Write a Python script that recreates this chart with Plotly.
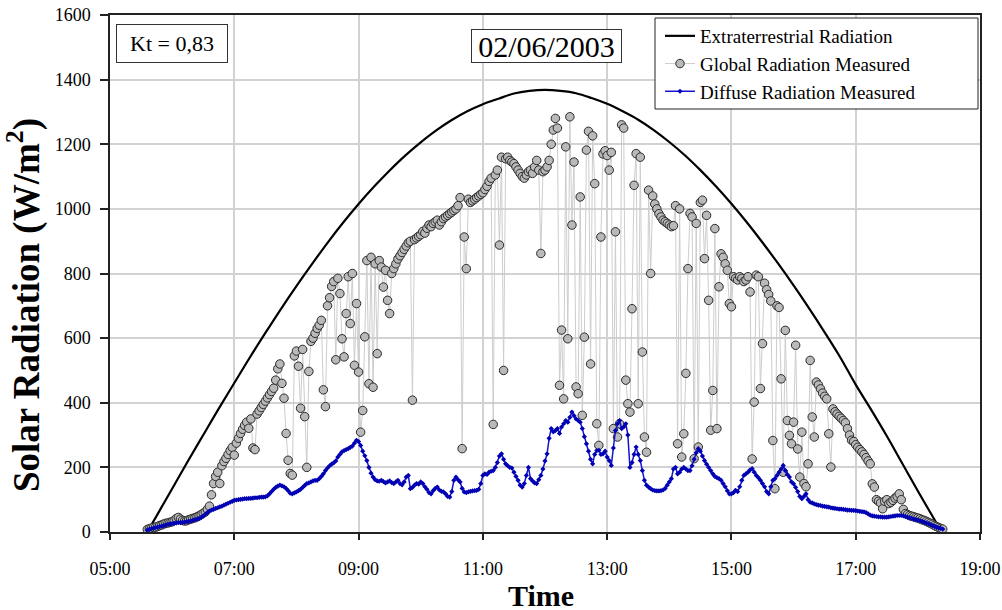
import plotly.graph_objects as go
import pandas as pd

DAY = "2003-06-02"
FONT = "Liberation Serif"

# ---------------- Extraterrestrial radiation ----------------
et_times = ["05:36", "05:45", "06:00", "06:15", "06:30", "06:45", "07:00", "07:15", "07:30", "07:45",
            "08:00", "08:15", "08:30", "08:45", "09:00", "09:15", "09:30", "09:45", "10:00", "10:15",
            "10:30", "10:45", "11:00", "11:15", "11:30", "11:45", "12:00", "12:15", "12:30", "12:45",
            "13:00", "13:15", "13:30", "13:45", "14:00", "14:15", "14:30", "14:45", "15:00", "15:15",
            "15:30", "15:45", "16:00", "16:15", "16:30", "16:45", "17:00", "17:15", "17:30", "17:45",
            "18:00", "18:15", "18:23"]
et_values = [0, 50, 134, 218, 300, 382, 461, 540, 616, 690,
             761, 829, 895, 957, 1015, 1069, 1119, 1165, 1206, 1243,
             1275, 1302, 1324, 1341, 1357, 1365, 1368, 1365, 1358, 1343,
             1325, 1302, 1276, 1244, 1207, 1166, 1120, 1070, 1016, 958,
             896, 831, 763, 692, 618, 541, 456, 378, 297, 212,
             127, 44, 0]

# ---------------- Global radiation measured (2-minute samples, one list per hour) ----------------
g_05 = [8, 10, 12, 14, 15, 17, 20, 22, 25, 27, 28, 30]
g_06 = [32, 36, 42, 45, 40, 36, 34, 35, 38, 40, 42, 44, 47, 50, 54,
        58, 62, 70, 80, 115, 150, 172, 185, 150, 205, 218, 228, 240, 252, 262]
g_07 = [238, 275, 290, 305, 318, 330, 340, 321, 350, 260, 255, 365, 375, 385, 395,
        405, 415, 425, 435, 445, 470, 505, 520, 460, 414, 305, 222, 181, 176, 545]
g_08 = [560, 513, 383, 565, 357, 200, 497, 590, 600, 615, 630, 640, 655, 440, 388,
        700, 725, 760, 775, 533, 785, 738, 598, 542, 676, 790, 645, 800, 516, 707]
g_09 = [495, 309, 376, 604, 840, 459, 850, 448, 830, 552, 840, 820, 758, 810, 717,
        676, 800, 815, 830, 845, 855, 865, 875, 885, 895, 900, 408, 905, 910, 915]
g_10 = [920, 930, 925, 940, 950, 945, 955, 960, 965, 950, 960, 970, 975, 980, 985,
        990, 995, 1000, 1010, 1035, 258, 913, 815, 1030, 1020, 1025, 1030, 1035, 1040, 1045]
g_11 = [1050, 1060, 1070, 1085, 1095, 333, 1105, 1120, 888, 1160, 500, 1155, 1160, 1150, 1145,
        1140, 1130, 1120, 1110, 1100, 1095, 1105, 1115, 1120, 1110, 1130, 1150, 1120, 862, 1115]
g_12 = [1120, 1130, 1150, 1200, 1244, 1280, 1250, 454, 625, 412, 1192, 598, 1285, 950, 1145,
        449, 428, 1037, 361, 603, 1182, 1240, 520, 1226, 1078, 335, 268, 913, 1170, 1180]
g_13 = [1165, 1120, 1175, 320, 929, 294, 335, 1260, 1250, 470, 397, 371, 691, 1073, 1171,
        397, 1160, 557, 294, 247, 1058, 800, 1040, 1015, 1000, 985, 975, 965, 960, 955]
g_14 = [950, 945, 948, 1010, 273, 1000, 232, 304, 491, 815, 986, 975, 227, 955, 263,
        1020, 1027, 846, 980, 717, 315, 438, 939, 320, 759, 861, 850, 830, 810, 707]
g_15 = [697, 790, 785, 780, 790, 785, 775, 780, 790, 743, 226, 402, 795, 790, 444,
        583, 770, 750, 735, 715, 283, 134, 700, 695, 474, 185, 624, 345, 299, 273]
g_16 = [340, 578, 257, 170, 309, 150, 140, 211, 531, 356, 294, 464, 455, 443, 430,
        420, 412, 304, 201, 381, 372, 365, 358, 352, 345, 338, 320, 300, 284, 280]
g_17 = [270, 262, 255, 248, 240, 230, 220, 211, 149, 139, 100, 95, 90, 72, 95,
        100, 88, 92, 98, 105, 110, 118, 100, 70, 57, 54, 51, 49, 47, 45]
g_18 = [43, 41, 38, 36, 33, 30, 27, 24, 20, 17, 14, 11, 9]

# ---------------- Diffuse radiation measured (same 2-minute samples) ----------------
d_05 = [6, 8, 10, 12, 14, 15, 17, 18, 20, 22, 24, 25]
d_06 = [26, 27, 28, 29, 29, 30, 31, 32, 33, 34, 36, 38, 40, 42, 45,
        50, 55, 60, 65, 68, 70, 73, 75, 78, 80, 83, 86, 89, 92, 95]
d_07 = [98, 99, 100, 101, 102, 103, 103, 104, 104, 105, 106, 106, 107, 108, 108,
        109, 112, 118, 125, 132, 138, 142, 145, 143, 140, 135, 128, 120, 118, 121]
d_08 = [124, 128, 132, 138, 144, 150, 152, 155, 158, 160, 160, 165, 172, 180, 190,
        198, 205, 210, 214, 220, 232, 240, 248, 252, 255, 258, 262, 266, 275, 284]
d_09 = [280, 268, 250, 236, 221, 200, 182, 170, 162, 158, 157, 160, 156, 152, 155,
        158, 153, 150, 155, 160, 150, 146, 155, 170, 175, 134, 138, 145, 150, 148]
d_10 = [155, 150, 140, 132, 122, 118, 128, 135, 139, 130, 126, 124, 118, 110, 108,
        125, 160, 170, 162, 155, 135, 124, 122, 124, 126, 127, 128, 129, 132, 150]
d_11 = [175, 180, 178, 185, 188, 190, 200, 215, 235, 242, 225, 211, 205, 200, 198,
        185, 172, 160, 145, 139, 150, 175, 200, 165, 158, 152, 150, 162, 175, 195]
d_12 = [220, 242, 290, 320, 310, 314, 320, 305, 325, 335, 345, 340, 355, 371, 360,
        350, 345, 340, 320, 295, 273, 250, 225, 211, 240, 252, 253, 240, 242, 250]
d_13 = [232, 221, 206, 260, 314, 335, 345, 320, 325, 335, 300, 200, 215, 240, 263,
        240, 221, 190, 160, 145, 139, 134, 130, 128, 127, 127, 128, 130, 135, 145]
d_14 = [155, 165, 195, 200, 180, 185, 195, 200, 195, 190, 190, 205, 225, 245, 258,
        250, 235, 221, 210, 200, 190, 180, 172, 168, 165, 160, 150, 140, 128, 118]
d_15 = [118, 122, 129, 125, 140, 160, 175, 180, 185, 192, 196, 185, 175, 168, 160,
        150, 140, 125, 118, 140, 160, 165, 175, 185, 195, 206, 190, 178, 170, 155]
d_16 = [149, 138, 125, 110, 103, 110, 118, 100, 92, 90, 87, 85, 83, 82, 80,
        79, 78, 77, 75, 74, 73, 72, 71, 71, 70, 69, 68, 68, 67, 67]
d_17 = [66, 65, 64, 63, 62, 60, 56, 52, 50, 49, 48, 47, 47, 46, 46,
        46, 47, 48, 49, 50, 51, 51, 51, 50, 48, 46, 44, 42, 40, 38]
d_18 = [37, 35, 33, 31, 28, 26, 23, 20, 18, 15, 13, 11, 9]

block_starts = ["05:36", "06:00", "07:00", "08:00", "09:00", "10:00", "11:00",
                "12:00", "13:00", "14:00", "15:00", "16:00", "17:00", "18:00"]
global_blocks = [g_05, g_06, g_07, g_08, g_09, g_10, g_11, g_12, g_13, g_14, g_15, g_16, g_17, g_18]
diffuse_blocks = [d_05, d_06, d_07, d_08, d_09, d_10, d_11, d_12, d_13, d_14, d_15, d_16, d_17, d_18]


def expand(starts, blocks):
    times, vals = [], []
    for start, block in zip(starts, blocks):
        t0 = pd.Timestamp(f"{DAY} {start}")
        for i, v in enumerate(block):
            times.append(t0 + pd.Timedelta(minutes=2 * i))
            vals.append(v)
    return times, vals


g_t, g_v = expand(block_starts, global_blocks)
d_t, d_v = expand(block_starts, diffuse_blocks)
et_t = [pd.Timestamp(f"{DAY} {s}") for s in et_times]

fig = go.Figure()
fig.add_trace(go.Scatter(
    x=et_t, y=et_values, mode="lines", name="Extraterrestrial Radiation",
    line=dict(color="black", width=2.2, shape="spline", smoothing=1.0)))
fig.add_trace(go.Scatter(
    x=g_t, y=g_v, mode="lines+markers", name="Global Radiation Measured",
    line=dict(color="#cdcdcd", width=1),
    marker=dict(symbol="circle", size=8.5, color="#b9b9b9", line=dict(color="#2a2a2a", width=1))))
fig.add_trace(go.Scatter(
    x=d_t, y=d_v, mode="lines+markers", name="Diffuse Radiation Measured",
    line=dict(color="#1414d2", width=1.5),
    marker=dict(symbol="diamond", size=4, color="#0000b4")))

axis_common = dict(
    showgrid=True, gridcolor="#d2d2d2", gridwidth=1.5,
    showline=True, linecolor="#222222", linewidth=1.5, mirror=True,
    ticks="outside", tickcolor="#222222", tickwidth=1.5,
    tickfont=dict(family=FONT, size=18, color="black"),
    zeroline=False, automargin=False,
)

fig.update_xaxes(
    type="date", range=[f"{DAY} 05:00", f"{DAY} 19:00"],
    tick0=f"{DAY} 05:00", dtick=7200000, tickformat="%H:%M",
    ticklen=6, ticklabelstandoff=14, **axis_common)
fig.update_yaxes(range=[0, 1600], dtick=200, ticklen=8, ticklabelstandoff=6, **axis_common)

W, H = 1002, 610
L, R, T, B = 110, 22, 15, 78
PW, PH = W - L - R, H - T - B


def px(x):
    return (x - L) / PW


def py(y):
    return (H - B - y) / PH


fig.add_shape(type="rect", xref="paper", yref="paper",
              x0=px(655), x1=px(978), y0=py(109), y1=py(18),
              fillcolor="white", line=dict(color="#222222", width=1), layer="above")

fig.add_annotation(text="Kt = 0,83", xref="paper", yref="paper", x=px(116), y=py(24),
                   xanchor="left", yanchor="top", showarrow=False,
                   width=106, height=33, borderpad=2, borderwidth=1, bordercolor="#333333",
                   bgcolor="white", font=dict(family=FONT, size=22, color="black"))
fig.add_annotation(text="02/06/2003", xref="paper", yref="paper", x=px(471), y=py(29),
                   xanchor="left", yanchor="top", showarrow=False,
                   width=145, height=28, borderpad=2, borderwidth=1, bordercolor="#333333",
                   bgcolor="white", font=dict(family=FONT, size=30, color="black"))
fig.add_annotation(text="<b>Solar Radiation (W/m<sup>2</sup>)</b>", xref="paper", yref="paper",
                   x=px(24), y=py(305), xanchor="center", yanchor="middle", textangle=-90,
                   showarrow=False, font=dict(family=FONT, size=37, color="black"))
fig.add_annotation(text="<b>Time</b>", xref="paper", yref="paper",
                   x=px(541), y=py(595), xanchor="center", yanchor="middle",
                   width=80, height=24, borderpad=0,
                   showarrow=False, font=dict(family=FONT, size=30, color="black"))

fig.update_layout(
    width=W, height=H, margin=dict(l=L, r=R, t=T, b=B, autoexpand=False),
    plot_bgcolor="white", paper_bgcolor="white",
    showlegend=True,
    legend=dict(x=px(660), y=py(17), xanchor="left", yanchor="top",
                bgcolor="rgba(0,0,0,0)", borderwidth=0,
                font=dict(family=FONT, size=19, color="black")),
)

fig.write_html("out.html", config={"displayModeBar": False},
               post_script="document.body.style.margin='0px';")
